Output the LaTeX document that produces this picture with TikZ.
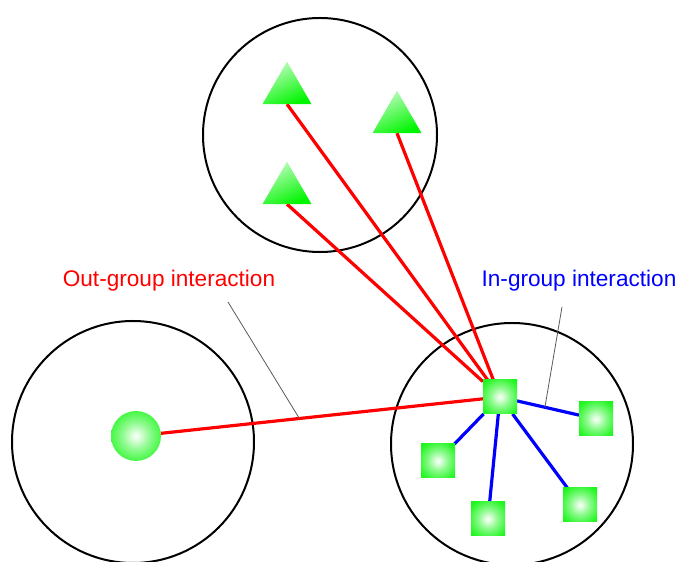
\documentclass[tikz,border=0pt]{standalone}
\usepackage{fontspec}
\setmainfont{Liberation Sans}
\usetikzlibrary{shapes.geometric,backgrounds}
\definecolor{brightgreen}{RGB}{0,245,0}
\pgfdeclareradialshading{glow}{\pgfpoint{0bp}{0bp}}{color(0bp)=(white);
  color(14bp)=(brightgreen!45!white); color(30bp)=(brightgreen!85!white);
  color(44bp)=(brightgreen); color(50bp)=(brightgreen)}

\begin{document}
\begin{tikzpicture}[x=1pt,y=1pt,
    cone/.style={regular polygon, regular polygon sides=3, minimum size=56.6pt,
      inner sep=0pt, outer sep=0pt, shade, top color=brightgreen!25!white,
      bottom color=brightgreen, shading angle=25},
    member/.style={rectangle, minimum size=34pt, inner sep=0pt, outer sep=0pt,
      shade, shading=glow},
    ball/.style={circle, minimum size=50pt, inner sep=0pt, outer sep=0pt,
      shade, shading=glow},
    grouprim/.style={line width=2pt, black},
    outlink/.style={line width=3.2pt, red},
    inlink/.style={line width=3.2pt, blue},
    pointer/.style={line width=0.8pt, black!65},
    caption/.style={anchor=base, font=\fontsize{22.6}{27}\selectfont}]
    \useasboundingbox (0,0) rectangle (678,562);
    \coordinate (TopGroup)   at (320,427);
    \coordinate (LeftGroup)  at (133,120);
    \coordinate (RightGroup) at (512,118);

    \node[cone] (tri1) at (287,472) {};% Members of the upper group
    \node[cone] (tri2) at (397,443) {};
    \node[cone] (tri3) at (287,372) {};
    \node[ball] (dot) at (136,126) {};% The lone member on the left
    \node[member] (hub)  at (500,165) {};% Squares of the right group
    \node[member] (sqE)  at (596,143) {};
    \node[member] (sqW)  at (438,101) {};
    \node[member] (sqS)  at (488,43) {};
    \node[member] (sqSE) at (580,57) {};

    \begin{pgfonlayer}{background}
      \draw[grouprim] (TopGroup) circle [radius=117pt];% Draws the groups
      \draw[grouprim] (LeftGroup) circle [radius=121pt];
      \draw[grouprim] (RightGroup) circle [radius=121pt];
      \draw[outlink] (tri1.south) -- (hub);
      \draw[outlink] (tri2.south) -- (hub);
      \draw[outlink] (tri3.south) -- (hub);
      \draw[outlink] (dot) -- (hub);
      \foreach \sq in {sqE,sqW,sqS,sqSE}{% Links inside the group
        \draw[inlink] (hub) -- (\sq);
      }
    \end{pgfonlayer}

    \node[caption, red] (outlabel) at (169,275) {Out-group interaction};
    \node[caption, blue] (inlabel) at (579,275) {In-group interaction};
    \coordinate (outfoot) at (228,260);
    \coordinate (infoot)  at (562,255);
    \path (dot) -- (hub) coordinate[pos=0.43] (outtip);
    \path (hub) -- (sqE) coordinate[pos=0.45] (intip);
    \draw[pointer] (outfoot) -- (outtip);
    \draw[pointer] (infoot) -- (intip);
\end{tikzpicture}
\end{document}
